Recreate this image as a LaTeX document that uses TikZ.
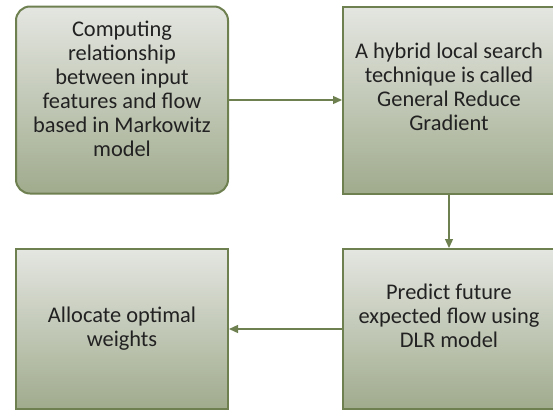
\documentclass[tikz,border=0pt]{standalone}
\usepackage{fontspec}
\setmainfont{Carlito}
\usetikzlibrary{arrows.meta}

\definecolor{edgegreen}{HTML}{6E8050}
\definecolor{toplight}{HTML}{E4E6E1}
\definecolor{bottomdark}{HTML}{A0AB8D}
\definecolor{inktext}{HTML}{222222}

\tikzset{
  stage/.style={draw=edgegreen, line width=2pt, top color=toplight,
    bottom color=bottomdark, minimum width=212pt, align=center,
    text=inktext, font=\fontsize{22.4}{24}\selectfont},
  flow/.style={draw=edgegreen, line width=1.3pt,
    -{Triangle[length=9pt,width=8pt]}}
}

\begin{document}
\begin{tikzpicture}[x=1pt,y=-1pt]
  \useasboundingbox (0,0) rectangle (553,410);
  \node[stage, rounded corners=14pt, minimum height=187pt, text depth=22pt]
    (markowitz) at (122,100) {Computing\\relationship\\between input\\features and flow\\based in Markowitz\\model};
  \node[stage, minimum height=187pt, text depth=26pt]
    (grg) at (449,100) {A hybrid local search\\technique is called\\General Reduce\\Gradient};
  \node[stage, minimum height=160pt, text depth=26pt]
    (dlr) at (449,329) {Predict future\\expected flow using\\DLR model};
  \node[stage, minimum height=160pt]
    (alloc) at (122,329) {Allocate optimal\\weights};
  \draw[flow] (markowitz.east) -- (grg.west);
  \draw[flow] (grg.south) -- (dlr.north);
  \draw[flow] (dlr.west) -- (alloc.east);
\end{tikzpicture}
\end{document}
